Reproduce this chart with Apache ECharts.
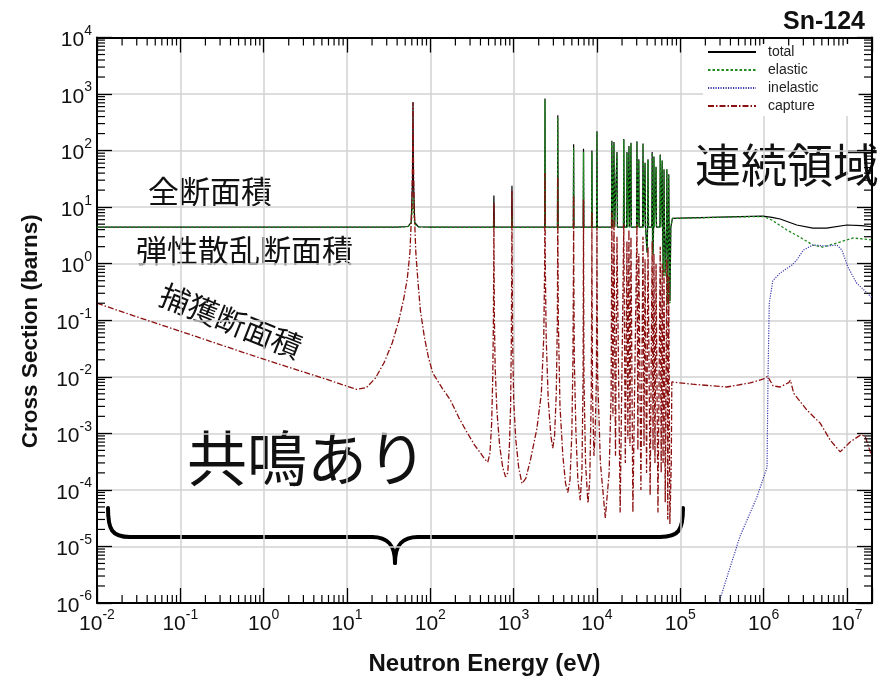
<!DOCTYPE html>
<html><head><meta charset="utf-8">
<script src="https://cdn.jsdelivr.net/npm/echarts@6/dist/echarts.min.js"></script>
<style>html,body{margin:0;padding:0;background:#fff}#c{width:889px;height:681px}</style>
</head><body><div id="c"></div>
<script>
// ---------------- data (energy in eV, cross section in barns) ----------------
const seriesNames = ['total', 'elastic', 'inelastic', 'capture'];
const xRange = [0.01, 2e7];
const yRange = [1e-6, 1e4];

const totalXS = [
 [0.01,4.45],[40,4.45],[54,4.55],[59,5.4],[61.2,30],[62,720],[62.8,30],[65,5.4],[72,4.5],[100,4.43],
 [573,4.42],[580,16],[587,4.42],
 [945,4.42],[955,24],[965,4.42],
 [2355,4.42],[2380,830],[2405,4.42],
 [3355,4.42],[3390,420],[3425,4.42],
 [5200,4.42],[5250,130],[5300,4.42],
 [6830,4.42],[6900,108],[6970,4.42],
 [8610,4.42],[8700,100],[8790,4.42],
 [9900,4.42],[10000,220],[10100,4.42],
 [14950,4.42],[15100,150],[15500,4.42],[16000,142],[16300,4.42],
 [17200,4.42],[17400,94],[17600,4.42],
 [20800,4.42],[21000,160],[21300,4.42],
 [22700,4.42],[22900,94],[23400,4.42],[24200,120],[24700,4.42],[25600,138],[25900,4.42],
 [29900,4.42],[30200,147],[30800,4.42],[31800,70],[32200,4.42],
 [35300,4.42],[35700,134],[36300,4.42],[37800,61],[38300,4.42],
 [40000,1.6],[40500,4.42],[41000,70],[41600,4.42],
 [45500,4.42],[46000,94],[46500,2.0],[47200,1.5],[47800,4.42],[48300,79],[48900,4.42],
 [50700,4.42],[51200,52],[51800,4.42],
 [57000,4.42],[57500,85],[58100,4.42],
 [60200,4.42],[60700,67],[61300,4.42],[62500,0.7],[63200,4.42],[63800,47],[64600,4.42],[66000,0.68],
 [68400,4.42],[69000,47],[69700,4.42],[70600,0.2],[72000,4.42],[72700,38],[73600,4.42],[75200,0.22],[77000,4.42],
 [79000,4.42],[80500,6.35],[1e5,6.4],[5.25e5,6.78],[9.8e5,6.96],[1.26e6,6.6],[1.58e6,6.17],
 [2.5e6,4.83],[3.9e6,4.27],[5.7e6,4.27],[1e7,4.83],[1.5e7,4.7],[2e7,4.5]
];

const elasticXS = [
 [0.01,4.42],[40,4.42],[54,4.52],[59,5.2],[61.2,10],[62,15],[62.8,10],[65,5.0],[72,4.45],[100,4.41],
 [573,4.4],[580,6],[587,4.4],
 [945,4.4],[955,7],[965,4.4],
 [2355,4.4],[2380,790],[2405,4.4],
 [3355,4.4],[3390,386],[3425,4.4],
 [5200,4.4],[5250,114],[5300,4.4],
 [6830,4.4],[6900,95],[6970,4.4],
 [8610,4.4],[8700,92],[8790,4.4],
 [9900,4.4],[10000,216],[10100,4.4],
 [14950,4.4],[15100,142],[15500,4.4],[16000,136],[16300,4.4],
 [17200,4.4],[17400,91],[17600,4.4],
 [20800,4.4],[21000,155],[21300,4.4],
 [22700,4.4],[22900,91],[23400,4.4],[24200,116],[24700,4.4],[25600,135],[25900,4.4],
 [29900,4.4],[30200,142],[30800,4.4],[31800,68],[32200,4.4],
 [35300,4.4],[35700,131],[36300,4.4],[37800,60],[38300,4.4],
 [40000,1.5],[40500,4.4],[41000,68],[41600,4.4],
 [45500,4.4],[46000,91],[46500,1.9],[47200,1.4],[47800,4.4],[48300,77],[48900,4.4],
 [50700,4.4],[51200,51],[51800,4.4],
 [57000,4.4],[57500,83],[58100,4.4],
 [60200,4.4],[60700,66],[61300,4.4],[62500,0.6],[63200,4.4],[63800,46],[64600,4.4],[66000,0.6],
 [68400,4.4],[69000,46],[69700,4.4],[70600,0.19],[72000,4.4],[72700,37],[73600,4.4],[75200,0.2],[77000,4.4],
 [79000,4.4],[80500,6.3],[1e5,6.35],[5.25e5,6.75],[1e6,6.8],[1.26e6,5.9],[1.9e6,3.95],[2.75e6,2.93],
 [3.9e6,2.14],[5.1e6,1.97],[7.6e6,2.32],[1.18e7,2.85],[2e7,2.63]
];

const inelasticXS = [
 [2.9e5,1e-6],[5.2e5,1.5e-5],[8.3e5,7.4e-5],[1.1e6,2.5e-4],[1.13e6,0.01],[1.17e6,0.2],[1.29e6,0.5],
 [1.57e6,0.68],[2.2e6,0.95],[2.5e6,1.16],[3e6,1.74],[3.9e6,2.14],[5.7e6,2.05],[7.6e6,2.14],
 [8.7e6,1.74],[1.03e7,0.87],[1.3e7,0.46],[2e7,0.25]
];

const captureXS = [
 [0.01,0.2],[0.03,0.115],[0.1,0.064],[0.3,0.037],[1,0.0205],[3,0.0122],[6,0.0088],[10,0.0068],[13,0.006],
 [17,0.0064],[22,0.0095],[28,0.018],[35,0.04],[42,0.1],[48,0.24],[53,0.55],[57,1.6],[60,10],[61.3,80],[62,700],
 [62.7,80],[64,10],[67,1.6],[71,0.5],[76,0.15],[85,0.05],[95,0.022],[107,0.0117],[140,0.0062],[174,0.0039],
 [220,0.0019],[275,0.00105],[340,0.00062],[400,0.00045],[450,0.00035],[490,0.00031],[520,0.00045],[545,0.0015],
 [562,0.01],[572,0.1],[578,1.5],[580,11.8],[582,1.5],[588,0.1],[600,0.015],[630,0.0025],[680,0.0006],[740,0.00025],
 [800,0.00017],[850,0.0002],[890,0.0006],[920,0.003],[940,0.05],[950,1.5],[955,19.4],[960,1.5],[972,0.05],
 [1000,0.004],[1060,0.0008],[1150,0.00025],[1260,0.00013],[1400,0.00016],[1600,0.00035],[1900,0.0012],
 [2150,0.005],[2300,0.05],[2360,1],[2380,40],[2400,1],[2460,0.05],[2600,0.004],[2800,0.0009],[2950,0.00055],
 [3100,0.0009],[3250,0.005],[3350,0.1],[3375,1.5],[3390,34],[3405,1.5],[3440,0.1],[3600,0.003],[3900,0.0004],
 [4200,0.00013],[4470,0.00009],[4750,0.00015],[5000,0.001],[5150,0.02],[5230,1],[5250,16],[5270,1],[5350,0.02],
 [5600,0.001],[5900,0.00015],[6300,0.000066],[6600,0.0002],[6820,0.01],[6880,1],[6900,13.5],[6920,1],[6980,0.01],
 [7300,0.0003],[7800,0.000058],[8200,0.00015],[8550,0.005],[8680,1],[8700,8],[8720,1],[8850,0.005],[9200,0.0004],
 [9500,0.0009],[9850,0.01],[9980,0.8],[10000,4.4],[10020,0.8],[10200,0.01],[11000,0.0003],[12600,0.000032],
 [14000,0.0002],[14800,0.005],[15100,8],[15550,0.002],[16000,6],[16700,0.0004],[17400,3],[19000,0.00004],
 [21000,5],[21900,0.0003],[22900,2.5],[23500,0.0008],[24200,4],[24900,0.0006],[25600,3],[27000,0.00004],
 [30200,5],[31000,0.0005],[31800,1.5],[33700,0.0001],[35700,3],[36700,0.0006],[37800,1.2],[39400,0.0002],
 [41000,2],[43500,0.00008],[46000,2.5],[47100,0.0005],[48300,1.5],[49700,0.0003],[51200,1],[54000,0.00004],
 [57500,2],[59000,0.0002],[60700,1],[62200,0.0003],[63800,0.8],[66000,0.00006],[69000,1.2],[70800,0.00003],
 [72700,0.6],[75000,0.000025],[78000,0.0003],[79200,0.0081],[1.4e5,0.0074],[3.6e5,0.0066],[6.9e5,0.0078],
 [1.0e6,0.0092],[1.12e6,0.0102],[1.3e6,0.0069],[1.58e6,0.0066],[2.0e6,0.0079],[2.1e6,0.0087],[2.3e6,0.0051],
 [3.3e6,0.0026],[4.8e6,0.0015],[6.3e6,0.00076],[8.3e6,0.00047],[1.1e7,0.00071],[1.45e7,0.00093],
 [1.65e7,0.0009],[2e7,0.00038]
];

// ---------------- chart ----------------
const FONT = '"Liberation Sans", Arial, Helvetica, sans-serif';
const JP = '"Noto Sans CJK JP", "Noto Sans CJK SC", sans-serif';
const chart = echarts.init(document.getElementById('c'), null, {renderer: 'canvas'});

function powLabel(v) {
  const e = Math.log10(v), r = Math.round(e);
  if (Math.abs(e - r) > 1e-6) return '';
  return '{b|10}{s|' + r + '}';
}
const labelRich = {
  b: {fontFamily: FONT, fontSize: 21, color: '#111', verticalAlign: 'bottom'},
  s: {fontFamily: FONT, fontSize: 14, color: '#111', verticalAlign: 'bottom', padding: [0, 0, 13, 0]}
};

const minorX = [], minorY = [];
for (let n = -2; n <= 7; n++) for (let k = 2; k <= 9; k++) { const v = k * Math.pow(10, n); if (v < xRange[1]) minorX.push(v); }
for (let n = -6; n <= 3; n++) for (let k = 2; k <= 9; k++) minorY.push(k * Math.pow(10, n));
const minorData = minorX.map(v => [v, yRange[0], 0]).concat(minorY.map(v => [xRange[0], v, 1]));

const frameAxis = {
  axisLine: {show: true, lineStyle: {color: '#000', width: 2}},
  axisTick: {show: true, inside: true, length: 15, lineStyle: {color: '#000', width: 1.3}},
  minorTick: {show: false}
};

const braceStyle = {stroke: '#000', lineWidth: 4, fill: null, lineCap: 'round'};

const option = {
  animation: false,
  backgroundColor: '#fff',
  title: {text: 'Sn-124', right: 19, top: 5, textStyle: {fontFamily: FONT, fontSize: 25, fontWeight: 'bold', color: '#111'}},
  legend: {
    data: seriesNames, orient: 'vertical', left: 703, top: 44, backgroundColor: '#fff',
    padding: [1, 40, 3, 4], itemWidth: 48, itemHeight: 12, itemGap: 4, selectedMode: false,
    itemStyle: {opacity: 0},
    textStyle: {fontFamily: FONT, fontSize: 14, color: '#222', padding: [0, 0, 0, 7], lineHeight: 12}
  },
  grid: {left: 97, right: 17, top: 37.5, bottom: 78},
  xAxis: [
    Object.assign({
      type: 'log', min: xRange[0], max: xRange[1], interval: 1, position: 'bottom',
      name: 'Neutron Energy (eV)', nameLocation: 'middle', nameGap: 49,
      nameTextStyle: {fontFamily: FONT, fontSize: 24, fontWeight: 'bold', color: '#111'},
      axisLabel: {formatter: powLabel, rich: labelRich, margin: 5},
      splitLine: {show: true, lineStyle: {color: '#d2d2d2', width: 1.5}}
    }, frameAxis),
    Object.assign({
      type: 'log', min: xRange[0], max: xRange[1], interval: 1, position: 'top',
      axisLabel: {show: false}, splitLine: {show: false}
    }, frameAxis)
  ],
  yAxis: [
    Object.assign({
      type: 'log', min: yRange[0], max: yRange[1], interval: 1, position: 'left',
      name: 'Cross Section (barns)', nameLocation: 'middle', nameGap: 55,
      nameTextStyle: {fontFamily: FONT, fontSize: 22.5, fontWeight: 'bold', color: '#111', padding: [0, 22, 0, 0]},
      axisLabel: {formatter: powLabel, rich: labelRich, margin: 5},
      splitLine: {show: true, lineStyle: {color: '#d2d2d2', width: 1.5}}
    }, frameAxis),
    Object.assign({
      type: 'log', min: yRange[0], max: yRange[1], interval: 1, position: 'right',
      axisLabel: {show: false}, splitLine: {show: false}
    }, frameAxis)
  ],
  series: [
    {name: 'total', type: 'line', data: totalXS, symbol: 'none', z: 3,
     lineStyle: {color: '#000', width: 1.2, type: 'solid'}, itemStyle: {color: '#000'}},
    {name: 'elastic', type: 'line', data: elasticXS, symbol: 'none', z: 4,
     lineStyle: {color: '#1f8a1f', width: 1.3, type: [2.5, 2]}, itemStyle: {color: '#1f8a1f'}},
    {name: 'inelastic', type: 'line', data: inelasticXS, symbol: 'none', z: 5,
     lineStyle: {color: '#3d3db0', width: 1.2, type: [1.2, 1.3]}, itemStyle: {color: '#3d3db0'}},
    {name: 'capture', type: 'line', data: captureXS, symbol: 'none', z: 6,
     lineStyle: {color: '#8b1010', width: 1.3, type: [6, 2, 1.5, 2]}, itemStyle: {color: '#8b1010'}},
    {name: 'minorTicks', type: 'custom', coordinateSystem: 'cartesian2d', silent: true, z: 10,
     encode: {x: 0, y: 1}, data: minorData,
     renderItem: function (params, api) {
       const kind = api.value(2), len = 8;
       const st = {stroke: '#000', lineWidth: 1.2};
       if (kind === 0) {
         const v = api.value(0);
         const pb = api.coord([v, yRange[0]]), pt = api.coord([v, yRange[1]]);
         return {type: 'group', children: [
           {type: 'line', shape: {x1: pb[0], y1: pb[1], x2: pb[0], y2: pb[1] - len}, style: st},
           {type: 'line', shape: {x1: pt[0], y1: pt[1], x2: pt[0], y2: pt[1] + len}, style: st}]};
       }
       const v = api.value(1);
       const pl = api.coord([xRange[0], v]), pr = api.coord([xRange[1], v]);
       return {type: 'group', children: [
         {type: 'line', shape: {x1: pl[0], y1: pl[1], x2: pl[0] + len, y2: pl[1]}, style: st},
         {type: 'line', shape: {x1: pr[0], y1: pr[1], x2: pr[0] - len, y2: pr[1]}, style: st}]};
     }}
  ],
  graphic: [
    {type: 'text', x: 148, y: 191, style: {text: '全断面積', font: '31px ' + JP, fill: '#111', textAlign: 'left', textVerticalAlign: 'middle'}},
    {type: 'text', x: 136, y: 250, style: {text: '弾性散乱断面積', font: '31px ' + JP, fill: '#111', textAlign: 'left', textVerticalAlign: 'middle'}},
    {type: 'text', x: 231, y: 321, rotation: -0.38, style: {text: '捕獲断面積', font: '30px ' + JP, fill: '#111', textAlign: 'center', textVerticalAlign: 'middle'}},
    {type: 'text', x: 695, y: 165, style: {text: '連続領域', font: '46px ' + JP, fill: '#111', textAlign: 'left', textVerticalAlign: 'middle'}},
    {type: 'text', x: 187, y: 458, style: {text: '共鳴あり', font: '60px ' + JP, fill: '#111', textAlign: 'left', textVerticalAlign: 'middle'}},
    {type: 'bezierCurve', shape: {x1: 108, y1: 508, cpx1: 108, cpy1: 530, cpx2: 112, cpy2: 537, x2: 130, y2: 537}, style: braceStyle},
    {type: 'line', shape: {x1: 130, y1: 537, x2: 372, y2: 537}, style: braceStyle},
    {type: 'bezierCurve', shape: {x1: 372, y1: 537, cpx1: 388, cpy1: 537, cpx2: 395, cpy2: 545, x2: 395, y2: 563}, style: braceStyle},
    {type: 'bezierCurve', shape: {x1: 395, y1: 563, cpx1: 395, cpy1: 545, cpx2: 402, cpy2: 537, x2: 418, y2: 537}, style: braceStyle},
    {type: 'line', shape: {x1: 418, y1: 537, x2: 660, y2: 537}, style: braceStyle},
    {type: 'bezierCurve', shape: {x1: 660, y1: 537, cpx1: 679, cpy1: 537, cpx2: 683, cpy2: 530, x2: 683, y2: 508}, style: braceStyle}
  ]
};
chart.setOption(option);
</script>
</body></html>
